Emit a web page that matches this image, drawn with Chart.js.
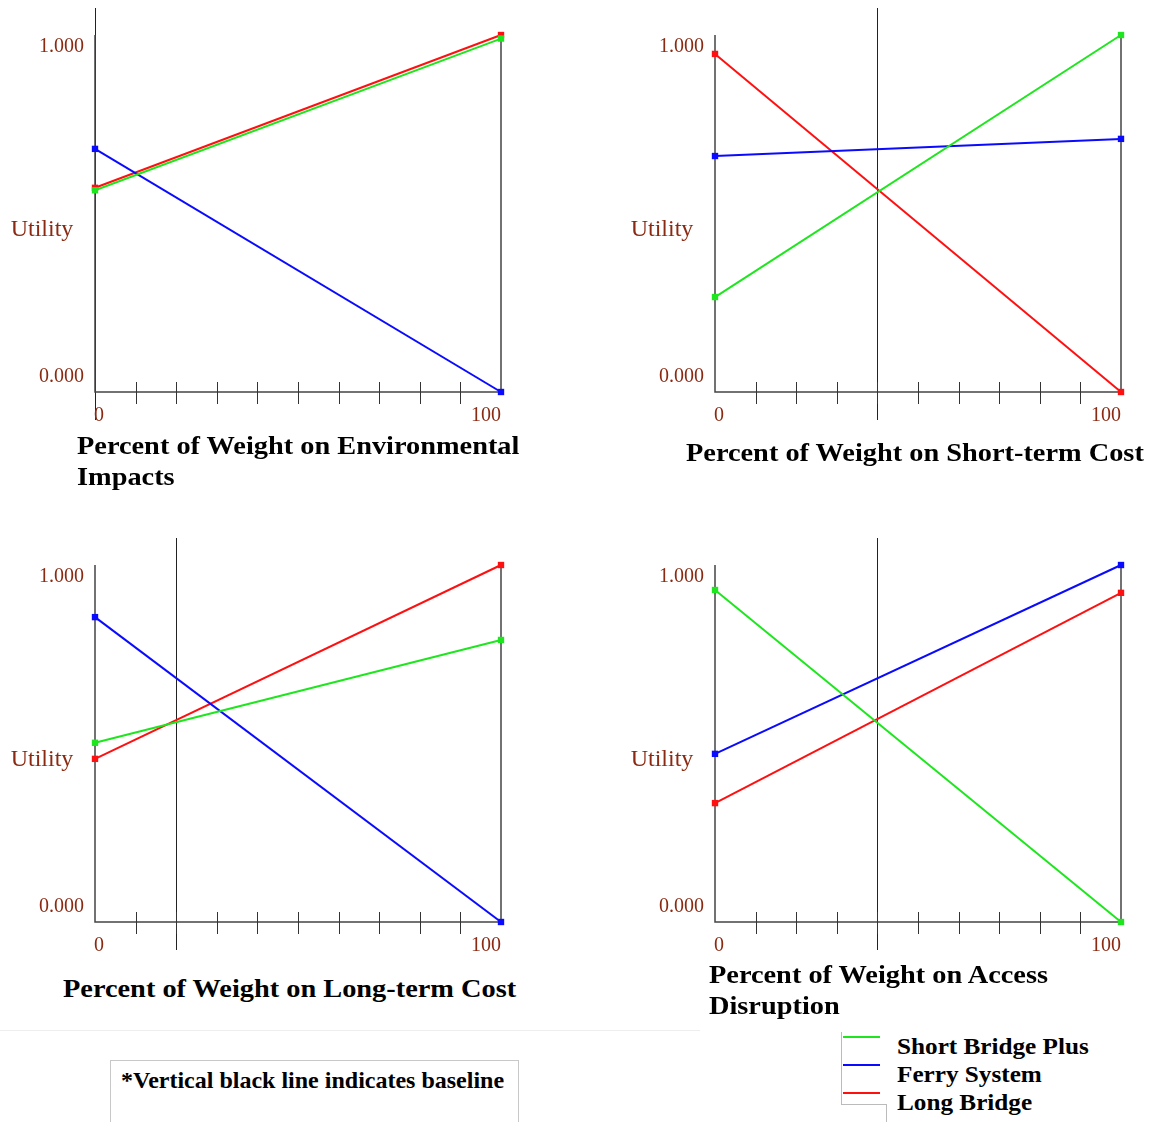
<!DOCTYPE html>
<html>
<head>
<meta charset="utf-8">
<script src="https://cdn.jsdelivr.net/npm/chart.js@4.4.1/dist/chart.umd.min.js"></script>
<style>
  body { margin: 0; background: #fff; }
  #page { position: relative; width: 1153px; height: 1122px; overflow: hidden; background: #fff; }
  canvas { position: absolute; }
  .title { position: absolute; font-family: "Liberation Serif", serif; font-weight: bold; font-size: 26px;
           line-height: 31px; color: #000; white-space: nowrap; transform-origin: left top;
           transform: scaleX(1.09); }
  .legend-line { position: absolute; left: 843px; width: 37px; height: 2px; }
  .legend-text { position: absolute; left: 897px; font-family: "Liberation Serif", serif; font-weight: bold;
                 font-size: 24px; line-height: 28px; white-space: nowrap; transform-origin: left center;
                 transform: scaleX(1.05); }
  #note { position: absolute; left: 110px; top: 1060px; width: 407px; height: 80px; border: 1px solid #c8c8c8; }
  #noteText { position: absolute; left: 10px; top: 4px; font-family: "Liberation Serif", serif; font-weight: bold;
              font-size: 24px; line-height: 30px; white-space: nowrap; transform-origin: left center; }
</style>
</head>
<body>
<div id="page">
  <canvas id="envChart" width="533" height="440" style="left:0;top:0"></canvas>
  <canvas id="shortChart" width="533" height="440" style="left:620px;top:0"></canvas>
  <canvas id="longChart" width="533" height="440" style="left:0;top:530px"></canvas>
  <canvas id="accessChart" width="533" height="440" style="left:620px;top:530px"></canvas>

  <div class="title" style="left:77px;top:430px">Percent of Weight on Environmental<br>Impacts</div>
  <div class="title" style="left:686px;top:437px">Percent of Weight on Short-term Cost</div>
  <div class="title" style="left:63px;top:973px">Percent of Weight on Long-term Cost</div>
  <div class="title" style="left:709px;top:959px">Percent of Weight on Access<br>Disruption</div>

  <div style="position:absolute;left:0;top:1030px;width:700px;height:1px;background:#eee"></div>
  <div id="note"><div id="noteText">*Vertical black line indicates baseline</div></div>

  <div style="position:absolute;left:841px;top:1032px;width:45px;height:72px;border-left:1px solid #bbb;border-bottom:1px solid #bbb"></div>
  <div style="position:absolute;left:886px;top:1104px;width:1px;height:18px;background:#bbb"></div>
  <div id="legend"></div>
</div>

<script>
// ---------- Data ----------
const weightPoints = [0, 100];
const seriesNames = ["Short Bridge Plus", "Ferry System", "Long Bridge"];
const seriesColors = ["#1ee61e", "#0a0aff", "#ff1010"];

const envShortBridge = [0.565, 0.99];
const envFerry = [0.681, 0.0];
const envLongBridge = [0.572, 1.0];

const shortShortBridge = [0.266, 1.0];
const shortFerry = [0.661, 0.709];
const shortLongBridge = [0.947, 0.0];

const longShortBridge = [0.502, 0.79];
const longFerry = [0.854, 0.0];
const longLongBridge = [0.457, 1.0];

const accessShortBridge = [0.93, 0.0];
const accessFerry = [0.471, 1.0];
const accessLongBridge = [0.333, 0.922];

const baselineWeights = [0, 40, 20, 40];
const xTickValues = [10, 20, 30, 40, 50, 60, 70, 80, 90];
const xTickLabels = ["0", "100"];
const yTickLabels = ["0.000", "1.000"];
const yAxisTitle = "Utility";

// ---------- Helpers ----------
const LABEL_COLOR = "#8b2a12";
const AXIS_COLOR = "#444";

function toPoints(values) {
    return weightPoints.map((w, i) => ({ x: w, y: values[i] }));
}

// draws the frame, tick marks, baseline and labels
const framePlugin = {
    id: "frame",
    beforeDatasetsDraw(chart, args, opts) {
        const ctx = chart.ctx;
        const xs = chart.scales.x, ys = chart.scales.y;
        const left = xs.getPixelForValue(0), right = xs.getPixelForValue(100);
        const top = ys.getPixelForValue(1), bottom = ys.getPixelForValue(0);
        ctx.save();

        // baseline
        const bx = Math.round(xs.getPixelForValue(opts.baseline)) + 0.5;
        ctx.strokeStyle = "#222";
        ctx.lineWidth = 1;
        ctx.beginPath();
        ctx.moveTo(bx, top - 27);
        ctx.lineTo(bx, bottom + 28);
        ctx.stroke();

        // axes
        ctx.strokeStyle = AXIS_COLOR;
        ctx.lineWidth = 1.5;
        ctx.beginPath();
        ctx.moveTo(left, top);
        ctx.lineTo(left, bottom);
        ctx.lineTo(right, bottom);
        ctx.lineTo(right, top);
        ctx.stroke();

        ctx.lineWidth = 1;
        ctx.strokeStyle = "#333";
        xTickValues.forEach(v => {
            const px = Math.round(xs.getPixelForValue(v)) + 0.5;
            ctx.beginPath();
            ctx.moveTo(px, bottom - 10);
            ctx.lineTo(px, bottom + 12);
            ctx.stroke();
        });

        // labels
        ctx.fillStyle = LABEL_COLOR;
        ctx.font = '20px "Liberation Serif"';
        ctx.textBaseline = "middle";
        ctx.textAlign = "right";
        ctx.fillText(yTickLabels[1], left - 11, top + 12);
        ctx.fillText(yTickLabels[0], left - 11, bottom - 15);
        ctx.textAlign = "center";
        ctx.fillText(xTickLabels[0], left + 4, bottom + 24);
        ctx.textAlign = "right";
        ctx.fillText(xTickLabels[1], right, bottom + 24);

        ctx.font = '24px "Liberation Serif"';
        ctx.textAlign = "center";
        ctx.fillText(yAxisTitle, left - 53, top + 195);
        ctx.restore();
    }
};

function makeChart(id, series, baseline) {
    new Chart(document.getElementById(id), {
        type: "line",
        data: {
            datasets: series.map((vals, i) => ({
                label: seriesNames[i],
                data: toPoints(vals),
                borderColor: seriesColors[i],
                backgroundColor: seriesColors[i],
                borderWidth: 2,
                pointStyle: "rect",
                pointRadius: 4.5,
                pointBorderWidth: 0,
                clip: false
            }))
        },
        options: {
            responsive: false,
            animation: false,
            layout: { padding: { left: 95, top: 35, right: 32, bottom: 48 } },
            plugins: {
                legend: { display: false },
                tooltip: { enabled: false },
                frame: { baseline }
            },
            scales: {
                x: { type: "linear", min: 0, max: 100, display: false },
                y: { min: 0, max: 1, display: false }
            }
        },
        plugins: [framePlugin]
    });
}

makeChart("envChart", [envShortBridge, envFerry, envLongBridge], baselineWeights[0]);
makeChart("shortChart", [shortShortBridge, shortFerry, shortLongBridge], baselineWeights[1]);
makeChart("longChart", [longShortBridge, longFerry, longLongBridge], baselineWeights[2]);
makeChart("accessChart", [accessShortBridge, accessFerry, accessLongBridge], baselineWeights[3]);

// ---------- Legend ----------
const legend = document.getElementById("legend");
seriesNames.forEach((name, i) => {
    const y = 1036 + i * 28;
    const line = document.createElement("div");
    line.className = "legend-line";
    line.style.top = y + "px";
    line.style.background = seriesColors[i];
    legend.appendChild(line);
    const txt = document.createElement("div");
    txt.className = "legend-text";
    txt.style.top = (y - 4) + "px";
    txt.textContent = name;
    legend.appendChild(txt);
});
</script>
</body>
</html>
